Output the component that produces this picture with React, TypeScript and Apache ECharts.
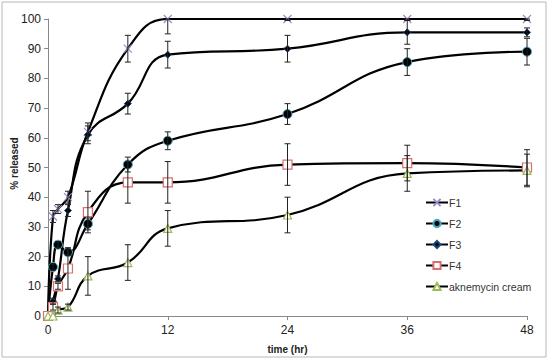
import React, { useEffect, useRef } from "react";
import * as echarts from "echarts";

const times = [0, 0.5, 1, 2, 4, 8, 12, 24, 36, 48];
const seriesNames = ["F1", "F2", "F3", "F4", "aknemycin cream"];
const f1 = [0, 33.5, 36, 40, 62, 90, 100, 100, 100, 100];
const f2 = [0, 16.5, 24, 21.5, 31, 51, 59, 68, 85.5, 89];
const f3 = [0, 5, 12.5, 35.5, 61, 71.5, 88, 90, 95.5, 95.5];
const f4 = [0, 3, 10, 16, 35, 45, 45, 51, 51.5, 50];
const akn = [0, 0, 2, 3, 13.5, 18, 29.5, 34, 48, 49];
const errF1 = [0, 2, 1.5, 2, 3, 4.5, 5, 0.5, 0.5, 0.5];
const errF2 = [0, 1, 1, 1, 2, 2.5, 3, 3.5, 4.5, 4.5];
const errF3 = [0, 1, 1, 2, 3, 3.5, 4.5, 4.5, 4, 1.5];
const errF4 = [0, 1, 1, 7, 7, 7, 7, 7, 6, 6];
const errAkn = [0, 0, 1, 1, 6.5, 6, 6, 6, 6, 5.5];
const yTicks = [0, 10, 20, 30, 40, 50, 60, 70, 80, 90, 100];
const xTicks = [0, 12, 24, 36, 48];

const FONT = "'Liberation Sans Narrow', 'Liberation Sans', Arial, sans-serif";

export default function App() {
  const ref = useRef<HTMLDivElement>(null);
  useEffect(() => {
    if (!ref.current) return;
    const chart = echarts.init(ref.current, undefined, { renderer: "svg" });
    const values = [f1, f2, f3, f4, akn];
    const errs = [errF1, errF2, errF3, errF4, errAkn];
    const errData: number[][] = [];
    values.forEach((vals, si) => {
      vals.forEach((v, i) => {
        const e = errs[si][i];
        if (e > 0) errData.push([times[i], Math.max(0, v - e), Math.min(100, v + e)]);
      });
    });
    const mk = (vals: number[]) => vals.map((v, i) => [times[i], v]);
    const lineStyle = { color: "#000", width: 2.2 };
    const symbols: any[] = [
      { symbol: "path://M0,0L10,10M10,0L0,10", symbolSize: 8, itemStyle: { color: "transparent", borderColor: "#9b8dc6", borderWidth: 1.2 } },
      { symbol: "circle", symbolSize: 9, itemStyle: { color: "#000", borderColor: "#4bacc6", borderWidth: 1 } },
      { symbol: "diamond", symbolSize: 7, itemStyle: { color: "#000", borderColor: "#1f497d", borderWidth: 1 } },
      { symbol: "rect", symbolSize: 9, itemStyle: { color: "#fff", borderColor: "#d9706e", borderWidth: 1.2 } },
      { symbol: "triangle", symbolSize: 8, itemStyle: { color: "#fff", borderColor: "#9bbb59", borderWidth: 1.2 } },
    ];
    const lineSeries = values.map((vals, i) => ({
      name: seriesNames[i],
      type: "line",
      data: mk(vals),
      smooth: 0.45,
      lineStyle,
      showSymbol: true,
      ...symbols[i],
      z: 3,
    }));
    chart.setOption({
      animation: false,
      backgroundColor: "#fff",
      grid: { left: 48, right: 23, top: 19, bottom: 43, containLabel: false, outerBoundsMode: "none" },
      graphic: [
        { type: "rect", shape: { x: 2, y: 2, width: 544, height: 355 }, style: { fill: "none", stroke: "#b8b8b8", lineWidth: 1 }, z: -1 },
      ],
      legend: {
        orient: "vertical",
        left: 425,
        top: 197,
        padding: 0,
        itemWidth: 22,
        itemHeight: 9,
        itemGap: 10,
        data: seriesNames,
        textStyle: { fontFamily: FONT, fontSize: 10.5, color: "#333", padding: [0, 0, 0, -4] },
      },
      xAxis: {
        type: "value",
        min: 0,
        max: 48,
        interval: 12,
        name: "time (hr)",
        nameLocation: "middle",
        nameGap: 28,
        nameMoveOverlap: false,
        nameTextStyle: { fontFamily: FONT, fontSize: 10, fontWeight: "bold", color: "#222" },
        axisLine: { show: true, lineStyle: { color: "#888", width: 1 } },
        axisTick: { show: true, length: 4, lineStyle: { color: "#888" } },
        axisLabel: { fontFamily: FONT, fontSize: 12, color: "#222", margin: 8, formatter: (v: number) => (xTicks.includes(v) ? String(v) : "") },
        splitLine: { show: false },
      },
      yAxis: {
        type: "value",
        min: 0,
        max: 100,
        interval: 10,
        name: "% released",
        nameLocation: "middle",
        nameGap: 29,
        nameMoveOverlap: false,
        nameRotate: 90,
        nameTextStyle: { fontFamily: FONT, fontSize: 10, fontWeight: "bold", color: "#222", padding: [0, 0, 0, 8] },
        axisLine: { show: true, lineStyle: { color: "#888", width: 1 } },
        axisTick: { show: true, length: 4, lineStyle: { color: "#888" } },
        axisLabel: { fontFamily: FONT, fontSize: 12, color: "#222", margin: 7, formatter: (v: number) => (yTicks.includes(v) ? String(v) : "") },
        splitLine: { show: false },
      },
      series: [
        ...lineSeries,
        {
          type: "custom",
          data: errData,
          encode: { x: 0, y: [1, 2] },
          z: 4,
          silent: true,
          renderItem: (params: any, api: any) => {
            const x = api.value(0);
            const lo = api.coord([x, api.value(1)]);
            const hi = api.coord([x, api.value(2)]);
            const w = 3;
            const style = { stroke: "#222", lineWidth: 1 };
            return {
              type: "group",
              children: [
                { type: "line", shape: { x1: lo[0], y1: lo[1], x2: hi[0], y2: hi[1] }, style },
                { type: "line", shape: { x1: lo[0] - w, y1: lo[1], x2: lo[0] + w, y2: lo[1] }, style },
                { type: "line", shape: { x1: hi[0] - w, y1: hi[1], x2: hi[0] + w, y2: hi[1] }, style },
              ],
            };
          },
        },
      ],
    });
    return () => chart.dispose();
  }, []);
  return <div ref={ref} style={{ position: "fixed", left: 0, top: 0, width: 550, height: 359 }} />;
}
